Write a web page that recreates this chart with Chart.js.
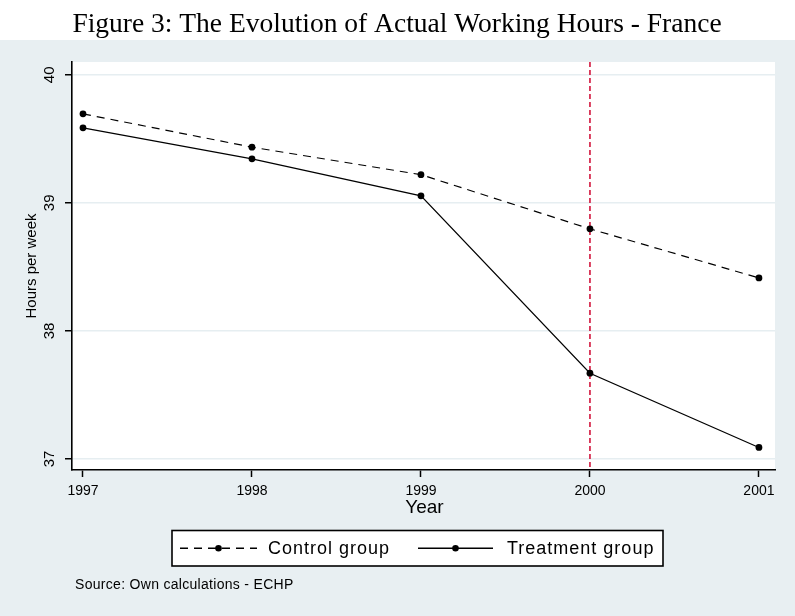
<!DOCTYPE html>
<html>
<head>
<meta charset="utf-8">
<script src="https://cdn.jsdelivr.net/npm/chart.js@4/dist/chart.umd.min.js"></script>
<style>
html,body{margin:0;padding:0;background:#fff;}
#wrap{width:795px;height:616px;}
</style>
</head>
<body>
<div id="wrap"><canvas id="c" width="795" height="616"></canvas></div>
<script>
const titleText = "Figure 3: The Evolution of Actual Working Hours - France";
const yTitle = "Hours per week";
const xTitle = "Year";
const sourceText = "Source: Own calculations - ECHP";
const years = [1997, 1998, 1999, 2000, 2001];
const controlGroup = [39.695, 39.435, 39.22, 38.797, 38.414];
const treatmentGroup = [39.586, 39.344, 39.055, 37.67, 37.09];
const yTicks = [37, 38, 39, 40];
const xTicks = [1997, 1998, 1999, 2000, 2001];
const reformYear = 2000;
const seriesLabels = ["Control group", "Treatment group"];

const BG = '#e8eff2';
const SANS = '"Liberation Sans", Arial, sans-serif';

const decorPlugin = {
  id: 'decor',
  beforeDraw(chart) {
    const ctx = chart.ctx, a = chart.chartArea;
    ctx.save();
    ctx.fillStyle = '#ffffff';
    ctx.fillRect(0, 0, chart.width, chart.height);
    ctx.fillStyle = BG;
    ctx.fillRect(0, 40, chart.width, chart.height - 40);
    ctx.fillStyle = '#ffffff';
    ctx.fillRect(a.left, a.top, a.right - a.left, a.bottom - a.top);
    ctx.restore();
  },
  beforeDatasetsDraw(chart) {
    const ctx = chart.ctx, a = chart.chartArea;
    const x = chart.scales.x.getPixelForValue(reformYear);
    ctx.save();
    ctx.strokeStyle = '#d2143c';
    ctx.lineWidth = 1.6;
    ctx.setLineDash([5, 3]);
    ctx.beginPath();
    ctx.moveTo(x, a.top);
    ctx.lineTo(x, a.bottom);
    ctx.stroke();
    ctx.restore();
  },
  afterDraw(chart) {
    const ctx = chart.ctx, a = chart.chartArea;
    const ys = chart.scales.y;
    ctx.save();
    // Title
    ctx.fillStyle = '#000';
    ctx.font = '27.5px "Liberation Serif", "DejaVu Serif", serif';
    ctx.textBaseline = 'alphabetic';
    ctx.textAlign = 'center';
    ctx.fillText(titleText, 397, 32);
    // Y tick labels (rotated)
    ctx.font = '15px ' + SANS;
    ys.ticks.forEach(t => {
      const y = ys.getPixelForValue(t.value);
      ctx.save();
      ctx.translate(57, y);
      ctx.rotate(-Math.PI / 2);
      ctx.textAlign = 'center';
      ctx.textBaseline = 'bottom';
      ctx.fillText(String(t.value), 0, 0);
      ctx.restore();
    });
    // Y title
    ctx.save();
    ctx.font = '15px ' + SANS;
    ctx.translate(39, (a.top + a.bottom) / 2);
    ctx.rotate(-Math.PI / 2);
    ctx.textAlign = 'center';
    ctx.textBaseline = 'bottom';
    ctx.fillText(yTitle, 0, 0);
    ctx.restore();
    // X title
    ctx.font = '19px ' + SANS;
    ctx.textAlign = 'center';
    ctx.textBaseline = 'middle';
    ctx.fillText(xTitle, (a.left + a.right) / 2 + 1, 508);
    // Legend box
    const lx = 172, ly = 530.5, lw = 491, lh = 35.5;
    ctx.fillStyle = '#fff';
    ctx.fillRect(lx, ly, lw, lh);
    ctx.strokeStyle = '#000';
    ctx.lineWidth = 1.6;
    ctx.setLineDash([]);
    ctx.strokeRect(lx, ly, lw, lh);
    const items = [
      {x0: 180, x1: 257, tx: 268},
      {x0: 418, x1: 493, tx: 507}
    ];
    const cy = ly + lh / 2;
    chart.data.datasets.forEach((ds, i) => {
      const it = items[i];
      ctx.strokeStyle = ds.borderColor;
      ctx.lineWidth = 1.3;
      ctx.setLineDash(ds.borderDash || []);
      ctx.beginPath();
      ctx.moveTo(it.x0, cy);
      ctx.lineTo(it.x1, cy);
      ctx.stroke();
      ctx.setLineDash([]);
      ctx.fillStyle = ds.pointBackgroundColor;
      ctx.beginPath();
      ctx.arc((it.x0 + it.x1) / 2, cy, 3.3, 0, Math.PI * 2);
      ctx.fill();
      ctx.fillStyle = '#000';
      ctx.font = '18px ' + SANS;
      ctx.letterSpacing = '1px';
      ctx.textAlign = 'left';
      ctx.textBaseline = 'middle';
      ctx.fillText(ds.label, it.tx, cy + 1);
      ctx.letterSpacing = '0px';
    });
    // Source
    ctx.fillStyle = '#000';
    ctx.font = '14px ' + SANS;
    ctx.letterSpacing = '0.3px';
    ctx.textAlign = 'left';
    ctx.textBaseline = 'middle';
    ctx.fillText(sourceText, 75, 585);
    ctx.letterSpacing = '0px';
    ctx.restore();
  }
};

const toPts = arr => years.map((yr, i) => ({x: yr, y: arr[i]}));

new Chart(document.getElementById('c'), {
  type: 'line',
  data: {
    datasets: [
      {
        label: seriesLabels[0],
        data: toPts(controlGroup),
        borderColor: '#000',
        borderWidth: 1.2,
        borderDash: [8, 6],
        pointRadius: 3.4,
        pointBackgroundColor: '#000',
        pointBorderColor: '#000',
        pointBorderWidth: 0,
        tension: 0,
        fill: false
      },
      {
        label: seriesLabels[1],
        data: toPts(treatmentGroup),
        borderColor: '#000',
        borderWidth: 1.2,
        pointRadius: 3.4,
        pointBackgroundColor: '#000',
        pointBorderColor: '#000',
        pointBorderWidth: 0,
        tension: 0,
        fill: false
      }
    ]
  },
  options: {
    responsive: false,
    animation: false,
    devicePixelRatio: 1,
    layout: {padding: {top: 62, right: 20, left: 0, bottom: 0}},
    plugins: {legend: {display: false}, title: {display: false}, tooltip: {enabled: false}},
    scales: {
      x: {
        type: 'linear',
        min: 1996.935,
        max: 2001.095,
        afterFit(s) { s.height = 146; },
        afterBuildTicks(s) { s.ticks = xTicks.map(v => ({value: v})); },
        grid: {drawOnChartArea: false, drawTicks: true, tickLength: 7, tickColor: '#000', tickWidth: 1.5},
        border: {display: true, color: '#000', width: 1.6},
        ticks: {
          callback: v => String(v),
          color: '#000',
          font: {family: SANS, size: 14},
          padding: 6,
          maxRotation: 0,
          minRotation: 0
        }
      },
      y: {
        type: 'linear',
        min: 36.914,
        max: 40.10,
        afterFit(s) { s.width = 72; },
        afterBuildTicks(s) { s.ticks = yTicks.map(v => ({value: v})); },
        grid: {color: '#e6eef1', lineWidth: 1.5, drawTicks: true, tickLength: 7, tickColor: '#000', tickWidth: 1.5},
        border: {display: true, color: '#000', width: 1.6},
        ticks: {
          callback: v => String(v),
          color: 'rgba(0,0,0,0)',
          font: {size: 12}
        }
      }
    }
  },
  plugins: [decorPlugin]
});
</script>
</body>
</html>
